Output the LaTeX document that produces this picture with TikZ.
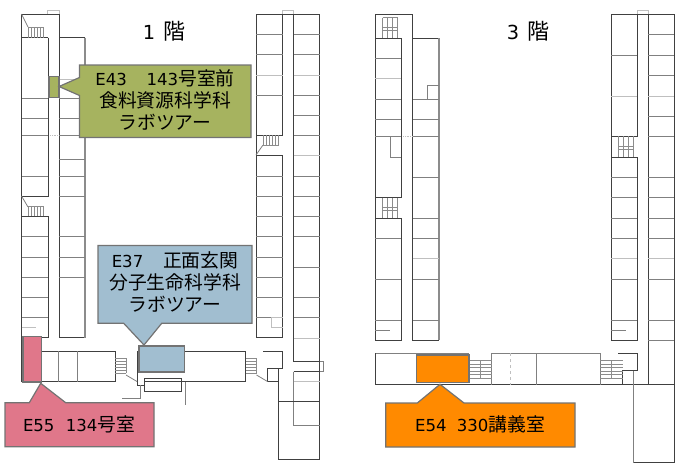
\documentclass[tikz,border=0pt]{standalone}
\usepackage{fontspec}
\setmainfont{Noto Sans CJK JP}
\newfontfamily\latinfont[Scale=0.88]{DejaVu Sans}
\newcommand{\lat}[1]{{\latinfont #1}}
\usepackage{xcolor}
\definecolor{olivecolor}{RGB}{166, 179, 95}
\definecolor{bluecolor}{RGB}{161, 190, 208}
\definecolor{pinkcolor}{RGB}{224, 119, 138}
\definecolor{orangecolor}{RGB}{255, 138, 0}
\tikzset{
    wall/.style={line width=0.9pt, black!75},
    grey wall/.style={line width=1.2pt, black!45},
    room line/.style={line width=0.8pt, black!50},
    pale line/.style={line width=0.8pt, black!25},
    stair line/.style={line width=0.6pt, black!45},
    callout/.style={line width=1.2pt, draw=black!55},
    title label/.style={font=\fontsize{22}{26}\selectfont},
    callout label/.style={font=\fontsize{18.8}{22}\selectfont, align=center, inner sep=0pt}
}
\begin{document}
\begin{tikzpicture}[x=1pt, y=-1pt]
    \useasboundingbox (0,0) rectangle (680,469);

    % Floor 1 - left wing
    \draw[pale line] (47,14) -- (47,10) -- (59,10) -- (59,14);
    \draw[wall] (48,37.5) -- (21.5,37.5) (21.5,382) -- (21.5,14) -- (59,14) -- (59,337.5) -- (85,337.5) (85,37.5) -- (59,37.5);
    \draw[grey wall] (85,37.5) -- (85,337.5);
    \draw[wall] (48,37.5) -- (48,196) -- (21.5,196) (21.5,216) -- (48,216) -- (48,337.5) -- (41,337.5);
    \foreach \y in {98,118.5,135,176,236.7,257,277,297,317}
        \draw[room line] (21.5,\y) -- (48,\y);
    \draw[pale line] (21.5,327.7) -- (36,327.7);
    \foreach \y in {98,118.5,135,159,176,196,236.7,257,277}
        \draw[room line] (59,\y) -- (85,\y);
    \draw[pale line] (59,79) -- (85,79);
    \draw[pale line, densely dotted] (50,135) -- (59,135);
    \draw[room line] (21.5,14) -- (28,27) (21.5,196) -- (28,207);
    \foreach \x in {28,31,34,37,40,43.5} {
        \draw[stair line] (\x,27.5) -- (\x,37.5);
        \draw[stair line] (\x,206.5) -- (\x,216);
    }
    \draw[stair line] (28,27.5) -- (43.5,27.5) (28,206.5) -- (43.5,206.5);

    % Floor 1 - right wing
    \draw[pale line] (282.5,14) -- (282.5,10) -- (293.5,10) -- (293.5,14);
    \draw[wall] (256,14) -- (319.5,14) -- (319.5,459) -- (278.5,459) -- (278.5,368.5);
    \draw[wall] (256,14) -- (256,337.5) (282.5,14) -- (282.5,135) -- (256,135) (256,155) -- (282.5,155) -- (282.5,337.5) -- (256,337.5);
    \draw[wall] (293.5,14) -- (293.5,361.5);
    \draw[wall] (293.5,361.5) -- (319.5,361.5) (293.5,371.5) -- (319.5,371.5);
    \draw[room line] (319.5,361.5) -- (323.5,361.5) -- (323.5,371.5) -- (319.5,371.5);
    \draw[room line] (293.5,371.5) -- (293.5,425) -- (319.5,425);
    \draw[wall] (278.5,401.5) -- (319.5,401.5);
    \draw[pale line] (293.5,381.5) -- (319.5,381.5);
    \foreach \y in {34.5,54.5,95,176.5,196.5,216.5,236.7,257,277,297,317}
        \draw[room line] (256,\y) -- (282.5,\y);
    \draw[pale line] (256,75) -- (282.5,75);
    \draw[pale line] (282.5,317.5) -- (271,317.5) -- (271,327.5) -- (282.5,327.5);
    \foreach \y in {34.5,54.5,95,115,135,176,196,216,236.7,267,297,317}
        \draw[room line] (293.5,\y) -- (319.5,\y);
    \foreach \y in {75,155,338}
        \draw[pale line] (293.5,\y) -- (319.5,\y);
    \draw[room line] (256,155) -- (263,145);
    \foreach \x in {263,266,269,272,275,278.5}
        \draw[stair line] (\x,135) -- (\x,145);
    \draw[stair line] (263,145) -- (278.5,145);

    % Floor 1 - bottom wing
    \draw[wall] (41,351) -- (115,351) -- (115,381.5) -- (21.5,381.5);
    \foreach \x in {58.7,77.5}
        \draw[room line] (\x,351) -- (\x,381.5);
    \draw[wall] (137,351) -- (137,385) -- (144.5,385);
    \draw[wall] (185,351) -- (245.5,351) -- (245.5,381.5) -- (144,381.5);
    \draw[wall] (144.5,378) rectangle (181.5,391.5);
    \draw[room line] (122,398.5) -- (140.5,398.5) -- (140.5,385);
    \draw[room line] (185.5,381.5) -- (185.5,405);
    \draw[wall] (263,351) -- (282.5,351) -- (282.5,368.5) -- (267,368.5) -- (267,381.5) -- (278.5,381.5);
    \foreach \x in {115,245.5} {
        \foreach \y in {358,361,364,367,370,373}
            \draw[stair line] (\x,\y) -- (\x+11,\y);
        \draw[stair line] (\x+11,358) -- (\x+11,373);
        \draw[room line] (\x+11,375) -- (\x+22,381.5);
    }

    % Floor 3 - left wing
    \draw[wall] (375.3,38) -- (375.3,14) -- (412.7,14) -- (412.7,340.3) -- (439,340.3) (439,38) -- (412.7,38);
    \draw[grey wall] (439,38) -- (439,340.3);
    \draw[wall] (375.3,38) -- (401.3,38) -- (401.3,197.3) -- (375.3,197.3) -- (375.3,38);
    \draw[wall] (375.3,197.3) -- (375.3,340.3) -- (401.3,340.3) -- (401.3,218) -- (375.3,218);
    \foreach \y in {58.5,99.3,119.3,136,238.3,279.3,320.7}
        \draw[room line] (375.3,\y) -- (401.3,\y);
    \draw[pale line] (375.3,78.7) -- (401.3,78.7);
    \draw[room line] (375.3,330.3) -- (390,330.3);
    \draw[room line] (401.3,157) -- (390.5,157) -- (390.5,136);
    \foreach \y in {99.3,119.3,136,177.3,218.3,238.3,279.3,320.7}
        \draw[room line] (412.7,\y) -- (439,\y);
    \draw[pale line] (412.7,258.7) -- (439,258.7);
    \draw[room line] (439,85.3) -- (427.3,85.3) -- (427.3,99.3);
    \draw[pale line, densely dotted] (403,136) -- (412.7,136);
    \foreach \x in {382.5,387.5,392.5,397.5} {
        \draw[stair line] (\x,17.5) -- (\x,37.5);
        \draw[stair line] (\x,197.5) -- (\x,217.5);
    }
    \foreach \y in {17.5,27.5,30,207.5,210}
        \draw[stair line] (382.5,\y) -- (397.5,\y);

    % Floor 3 - right wing
    \draw[pale line] (637.3,14) -- (637.3,10.5) -- (648.3,10.5) -- (648.3,14);
    \draw[wall] (611.3,14) -- (674.3,14) -- (674.3,462.7) -- (633.7,462.7);
    \draw[wall] (611.3,14) -- (611.3,340.3) -- (637.3,340.3) -- (637.3,157) -- (611.3,157) (611.3,136.3) -- (637.3,136.3) -- (637.3,14);
    \draw[wall] (648.3,14) -- (648.3,384.5);
    \foreach \y in {55.3,177.3,197.3,218.3,238.3,279.3,320.7}
        \draw[room line] (611.3,\y) -- (637.3,\y);
    \draw[pale line] (611.3,96) -- (637.3,96) (611.3,258.7) -- (637.3,258.7);
    \draw[room line] (611.3,330.3) -- (626,330.3);
    \foreach \y in {34.3,55.3,75.3,116.3,136.3,177.3,197.3,218,238,279.3,320.7,340.3}
        \draw[room line] (648.3,\y) -- (674.3,\y);
    \draw[pale line] (648.3,96) -- (674.3,96) (648.3,258.7) -- (674.3,258.7);
    \foreach \x in {618,623,628,633.5}
        \draw[stair line] (\x,136.3) -- (\x,157);
    \foreach \y in {146,149}
        \draw[stair line] (618,\y) -- (633.5,\y);

    % Floor 3 - bottom wing
    \draw[room line] (375.3,353.3) -- (469,353.3) (491.3,353.3) -- (600,353.3);
    \draw[wall] (375.3,353.3) -- (375.3,384.5) -- (674.3,384.5);
    \foreach \x in {491.3,536.7,600}
        \draw[room line] (\x,353.3) -- (\x,384.5);
    \draw[pale line, dashed] (510,353.3) -- (510,384.5);
    \draw[wall] (618.3,353.3) -- (637.3,353.3) -- (637.3,370.7) -- (622.7,370.7) -- (622.7,384.5);
    \draw[room line] (633.7,370.7) -- (633.7,462.7);
    \foreach \x in {469,600} {
        \foreach \y in {360.7,364,367.5,371,374.5,378}
            \draw[stair line] (\x,\y) -- (\x+22.5,\y);
        \draw[stair line] (\x+11,360.7) -- (\x+11,378);
    }

    % Highlighted rooms
    \draw[callout, fill=olivecolor] (49,76.5) rectangle (59,97.5);
    \draw[callout, fill=bluecolor] (139,346) rectangle (184.5,372);
    \draw[callout, fill=pinkcolor] (23,336.5) rectangle (41.5,382);
    \draw[callout, fill=orangecolor] (416.3,355) rectangle (469,382.7);

    % Callouts with their pointers
    \draw[callout, fill=olivecolor] (79.5,65) -- (251,65) -- (251,137.5) -- (79.5,137.5) -- (79.5,95.5) -- (59,86.5) -- (79.5,77.5) -- cycle;
    \draw[callout, fill=bluecolor] (98,245.5) -- (252,245.5) -- (252,323.3) -- (161.7,323.3) -- (144,345) -- (123.7,323.3) -- (98,323.3) -- cycle;
    \draw[callout, fill=pinkcolor] (5,402.7) -- (29.3,402.7) -- (40.7,383.3) -- (65.7,402.7) -- (154,402.7) -- (154,446.7) -- (5,446.7) -- cycle;
    \draw[callout, fill=orangecolor] (385.7,403) -- (417.3,403) -- (440,384.3) -- (464,403) -- (575,403) -- (575,447) -- (385.7,447) -- cycle;

    % Labels
    \node[title label] (floor1) at (164,31) {\lat{1}\hspace{0.35em}階};
    \node[title label] (floor3) at (528,31) {\lat{3}\hspace{0.35em}階};
    \node[callout label] (e43) at (165,100) {\lat{E43}\hspace{1.05em}\lat{143}号室前\\食料資源科学科\\ラボツアー};
    \node[callout label] (e37) at (175,282) {\lat{E37}\hspace{1.05em}正面玄関\\分子生命科学科\\ラボツアー};
    \node[callout label] (e55) at (79,424) {\lat{E55}\hspace{0.6em}\lat{134}号室};
    \node[callout label] (e54) at (480,424) {\lat{E54}\hspace{0.55em}\lat{330}講義室};
\end{tikzpicture}
\end{document}
